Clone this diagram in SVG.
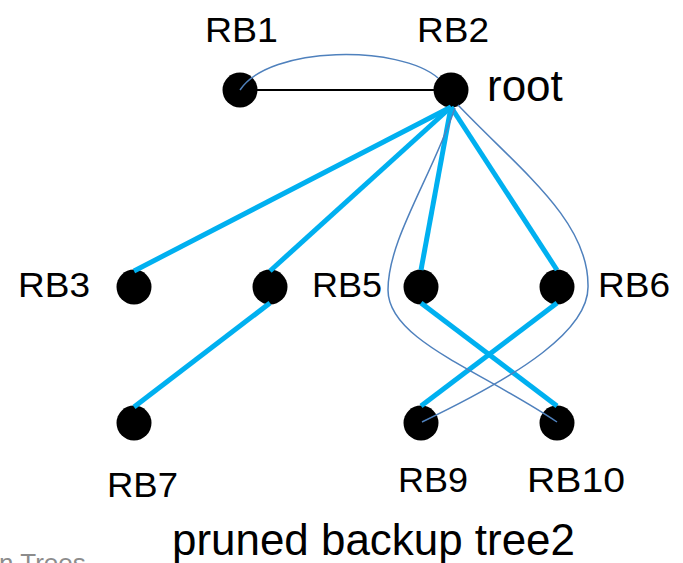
<svg xmlns="http://www.w3.org/2000/svg" width="683" height="563" viewBox="0 0 683 563">
<style>
.node{fill:#000}
.lbl{font-family:"Liberation Sans",Arial,sans-serif;font-size:35px;fill:#000}
.big{font-family:"Liberation Sans",Arial,sans-serif;font-size:44px;fill:#000}
.tree{stroke:#00B0F0;stroke-width:5;fill:none}
.backup{stroke:#4F81BD;stroke-width:1.5;fill:none}
.link{stroke:#000;stroke-width:2;fill:none}
</style>
<rect width="683" height="563" fill="#fff"/>
<g id="nodes">
<g id="RB1"><circle class="node" cx="240" cy="90" r="17.5"/><text class="lbl" x="205" y="42" textLength="73" lengthAdjust="spacingAndGlyphs">RB1</text></g>
<g id="RB2"><circle class="node" cx="451" cy="90" r="17.5"/><text class="lbl" x="417" y="42" textLength="72" lengthAdjust="spacingAndGlyphs">RB2</text><text class="big" x="487" y="101">root</text></g>
<g id="RB3"><circle class="node" cx="134" cy="287" r="17.5"/><text class="lbl" x="18" y="297" textLength="72" lengthAdjust="spacingAndGlyphs">RB3</text></g>
<g id="RB4"><circle class="node" cx="270" cy="287" r="17.5"/></g>
<g id="RB5"><circle class="node" cx="421" cy="287" r="17.5"/><text class="lbl" x="312" y="297" textLength="70" lengthAdjust="spacingAndGlyphs">RB5</text></g>
<g id="RB6"><circle class="node" cx="557" cy="287" r="17.5"/><text class="lbl" x="598" y="297" textLength="72" lengthAdjust="spacingAndGlyphs">RB6</text></g>
<g id="RB7"><circle class="node" cx="134" cy="423" r="17.5"/><text class="lbl" x="107" y="497" textLength="71" lengthAdjust="spacingAndGlyphs">RB7</text></g>
<g id="RB9"><circle class="node" cx="421" cy="423" r="17.5"/><text class="lbl" x="398" y="492" textLength="70" lengthAdjust="spacingAndGlyphs">RB9</text></g>
<g id="RB10"><circle class="node" cx="557" cy="423" r="17.5"/><text class="lbl" x="527" y="492" textLength="98" lengthAdjust="spacingAndGlyphs">RB10</text></g>
</g>
<g id="connectors">
<line class="link" x1="257" y1="90" x2="434" y2="90"/>
<line class="tree" x1="451" y1="107" x2="134" y2="271"/>
<line class="tree" x1="451" y1="107" x2="270" y2="271"/>
<line class="tree" x1="451" y1="107" x2="421" y2="270"/>
<line class="tree" x1="451" y1="107" x2="557" y2="270"/>
<line class="tree" x1="270" y1="303" x2="134" y2="407"/>
<line class="tree" x1="421" y1="303" x2="557" y2="406"/>
<line class="tree" x1="557" y1="303" x2="421" y2="406"/>
<path class="backup" d="M240,90 C270,45 400,45 438,78"/>
<path class="backup" d="M455,108 C430,180 388,240 388,290 C388,340 480,370 557,422"/>
<path class="backup" d="M458,105 C520,170 588,220 588,285 C590,330 520,375 422,422"/>
</g>
<text class="big" x="172" y="555" textLength="403" lengthAdjust="spacingAndGlyphs">pruned backup tree2</text>
<text x="-1" y="572" font-family="Liberation Sans, Arial, sans-serif" font-size="26" fill="#8c8c8c">n Trees</text>
</svg>
